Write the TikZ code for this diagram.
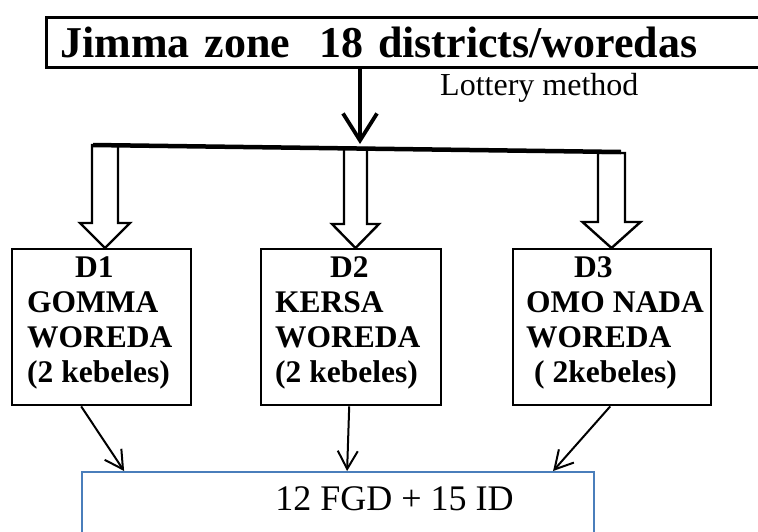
\documentclass[tikz,border=0pt]{standalone}
\usepackage{fontspec}
\setmainfont{Liberation Serif}
\usetikzlibrary{arrows.meta,calc}
\definecolor{boxblue}{HTML}{4A7EBB}
\tikzset{
  topbox/.style={draw, line width=2.7pt, anchor=north west, text width=700pt, inner xsep=14pt, inner ysep=0pt,
    minimum height=50pt, align=left, font=\bfseries\fontsize{44}{44}\selectfont},
  dbox/.style={draw, line width=2.4pt, anchor=north west, minimum height=156pt, inner sep=0pt},
  dtext/.style={inner sep=0pt, anchor=north west, align=left, font=\bfseries\fontsize{31.5}{35}\selectfont},
  blockarr/.style={draw, line width=2.4pt, line join=miter},
  smallarr/.style={draw, line width=2pt, -{Straight Barb[length=18pt,width=20pt]}},
  mainarr/.style={draw, line width=3.8pt, -{Straight Barb[length=27pt,width=34pt]}},
  resbox/.style={draw=boxblue, line width=2.2pt, anchor=north west, minimum width=512pt, minimum height=100pt},
}
\newcommand\blkarrow[6]{%
  \draw[blockarr] (#1-#3,#2) -- (#1-#3,#5) -- (#1-#4,#5) -- (#1,#6) -- (#1+#4,#5) -- (#1+#3,#5) -- (#1+#3,#2) -- cycle;}
\begin{document}
\begin{tikzpicture}[x=1pt,y=-1pt]
\useasboundingbox (0,0) rectangle (758,531);
\clip (0,0) rectangle (758,531);
% top box
\node[topbox] (zone) at (45,16) {Jimma zone~~18 districts/woredas};
\node[anchor=base west, inner sep=0pt, font=\fontsize{32}{32}\selectfont] (lot) at (440,95) {Lottery method};
% main arrow
\coordinate (split) at (360,144);
\draw[mainarr] (zone.south -| split) -- (split);
% block arrows
\blkarrow{105}{145}{13}{25}{223}{248}
\blkarrow{355.5}{148}{11.5}{23.5}{224}{248}
\blkarrow{611.5}{153}{13.5}{29}{222}{248}
% horizontal bar
\coordinate (hl) at (93,145);
\coordinate (hr) at (621,152);
\draw[line width=4.5pt] (hl) -- (hr);
% district boxes
\node[dbox, minimum width=179pt] (d1) at (11,248) {};
\node[dbox, minimum width=180pt] (d2) at (260,248) {};
\node[dbox, minimum width=198pt] (d3) at (512,248) {};
\node[dtext] (t1) at (27,256) {\hspace*{48pt}D1\\GOMMA\\WOREDA\\(2 kebeles)};
\node[dtext] (t2) at (275,256) {\hspace*{55pt}D2\\KERSA\\WOREDA\\(2 kebeles)};
\node[dtext] (t3) at (526,256) {\hspace*{48pt}D3\\OMO NADA\\WOREDA\\\hspace*{8pt}( 2kebeles)};
% result box
\node[resbox] (res) at (81,471) {};
\node[anchor=base, inner sep=0pt, font=\fontsize{36}{36}\selectfont] (rt) at (394.5,510) {12 FGD + 15 ID};
% small arrows
\draw[smallarr] ([xshift=-20.5pt]d1.south) -- ([xshift=-214pt]res.north);
\draw[smallarr] ([xshift=-2pt]d2.south) -- ([xshift=9pt]res.north);
\draw[smallarr] ([xshift=-2pt]d3.south) -- ([xshift=215pt]res.north);
\end{tikzpicture}
\end{document}
